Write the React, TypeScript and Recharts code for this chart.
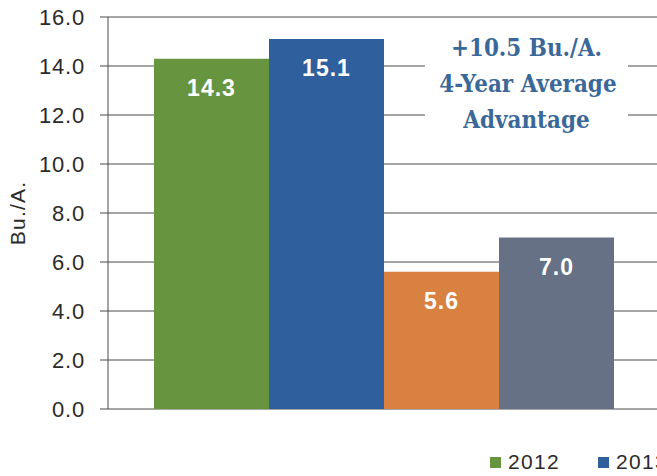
import React from 'react';
import { BarChart, Bar, XAxis, YAxis, CartesianGrid, LabelList } from 'recharts';

const categories = [''];
const seriesNames = ['2012', '2013', '2014', '2015'];
const seriesValues = [[14.3], [15.1], [5.6], [7.0]];
const seriesColors = ['#66943f', '#2f5f9c', '#d98140', '#667186'];
const yTicks = [0, 2, 4, 6, 8, 10, 12, 14, 16];
const annotationLines = ['+10.5 Bu./A.', '4-Year Average', 'Advantage'];
const yLabel = 'Bu./A.';

const data = categories.map((c, i) => {
  const row: Record<string, any> = { name: c };
  seriesNames.forEach((s, j) => {
    row[s] = seriesValues[j][i];
  });
  return row;
});

const FONT = '"Liberation Sans", Arial, sans-serif';

export default function App() {
  return (
    <div
      style={{
        position: 'absolute',
        left: 0,
        top: 0,
        width: 657,
        height: 476,
        overflow: 'hidden',
        background: '#ffffff',
      }}
    >
      <BarChart
        width={700}
        height={476}
        data={data}
        margin={{ top: 17, right: 40, bottom: 67, left: 0 }}
        barGap={0}
        barCategoryGap={46}
      >
        <CartesianGrid vertical={false} stroke="#4a4a4a" strokeWidth={1} />
        <XAxis dataKey="name" hide />
        <YAxis
          width={108}
          domain={[0, 16]}
          ticks={yTicks}
          interval={0}
          tickFormatter={(v: number) => v.toFixed(1)}
          tickSize={8}
          tickMargin={15}
          axisLine={{ stroke: '#4a4a4a' }}
          tickLine={{ stroke: '#4a4a4a' }}
          tick={{ fontSize: 22, fill: '#2b2b2b', fontFamily: FONT, letterSpacing: 0.8 }}
          label={{
            value: yLabel,
            angle: -90,
            position: 'insideLeft',
            offset: 18,
            style: { textAnchor: 'middle', fontSize: 21, fill: '#2b2b2b', fontFamily: FONT, letterSpacing: 1.2 },
          }}
        />
        {seriesNames.map((s, j) => (
          <Bar key={s} dataKey={s} fill={seriesColors[j]} isAnimationActive={false}>
            <LabelList
              dataKey={s}
              position="insideTop"
              offset={21}
              formatter={(v: number) => v.toFixed(1)}
              style={{ fill: '#ffffff', fontSize: 23, fontWeight: 'bold', fontFamily: FONT, letterSpacing: 1 }}
            />
          </Bar>
        ))}
      </BarChart>
      <div
        style={{
          position: 'absolute',
          left: 425,
          top: 28,
          width: 203,
          height: 112,
          background: '#ffffff',
        }}
      />
      <div
        style={{
          position: 'absolute',
          left: 425,
          top: 30,
          width: 203,
          color: '#3a6899',
          textAlign: 'center',
          fontFamily: '"DejaVu Serif", serif',
          fontWeight: 'bold',
          fontSize: 25,
          lineHeight: '36px',
          transform: 'scaleX(0.86)',
          transformOrigin: '50% 0',
          whiteSpace: 'nowrap',
        }}
      >
        {annotationLines.map((l) => (
          <div key={l}>{l}</div>
        ))}
      </div>
      <div style={{ position: 'absolute', left: 490, top: 449, display: 'flex', whiteSpace: 'nowrap' }}>
        {seriesNames.map((s, j) => (
          <div key={s} style={{ width: 108, display: 'flex', alignItems: 'center', flexShrink: 0 }}>
            <div style={{ width: 11, height: 11, background: seriesColors[j], marginRight: 7 }} />
            <span style={{ fontFamily: FONT, fontSize: 21, color: '#2b2b2b', letterSpacing: 1.3, lineHeight: '26px' }}>{s}</span>
          </div>
        ))}
      </div>
    </div>
  );
}
